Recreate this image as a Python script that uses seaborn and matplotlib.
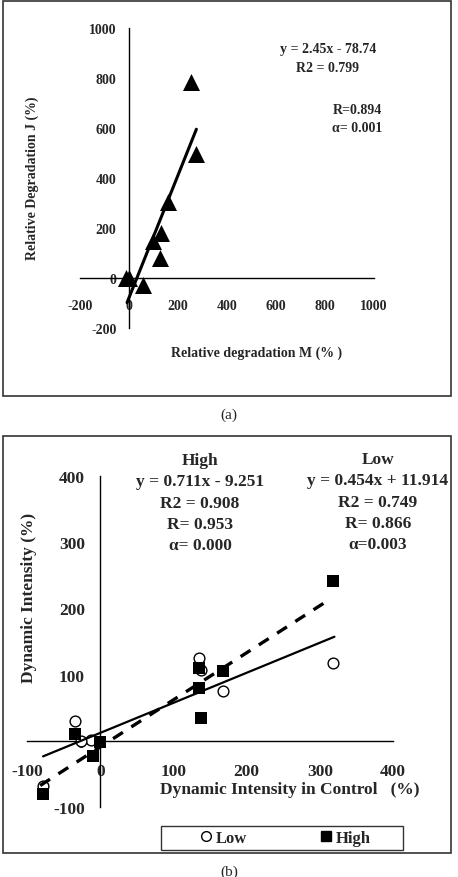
import matplotlib
matplotlib.use("Agg")
import matplotlib.pyplot as plt
import numpy as np
import pandas as pd
import seaborn as sns
from matplotlib.lines import Line2D
from matplotlib.patches import Rectangle

# ---- panel (a) data ----
deg_m = [-14, 0, 57, 98, 132, 128, 160, 252, 272]
deg_j = [0, 0, -27, 149, 180, 80, 303, 785, 495]
fit_a = (2.45, -78.74)
fit_a_x = [-8, 275]
ticks_a = [-200, 0, 200, 400, 600, 800, 1000]

# ---- panel (b) data ----
low_ctrl = [135, 138, 168, 318, -34, -12, -26, -78]
low_dyn = [125, 107, 75, 118, 30, 1, 0, -69]
high_ctrl = [318, 135, 135, 138, 168, -34, 0, -10, -78]
high_dyn = [241, 110, 80, 35, 105, 11, -2, -23, -80]
fit_low = (0.454, 11.914)
fit_high = (0.711, -9.251)
fit_low_x = [-78, 320]
fit_high_x = [-82, 310]
ticks_b = [-100, 0, 100, 200, 300, 400]

sns.set_style("white")
plt.rcParams["font.family"] = ["Liberation Serif", "DejaVu Serif"]
plt.rcParams["font.weight"] = "bold"
plt.rcParams["axes.unicode_minus"] = False

W, H = 458, 878
fig = plt.figure(figsize=(W / 100, H / 100), dpi=100)


def px_axes(x0, y0, x1, y1):
    # pixel box (top-left origin) -> figure axes
    return fig.add_axes([x0 / W, 1 - y1 / H, (x1 - x0) / W, (y1 - y0) / H])


def ftext(x, y, s, **kw):
    fig.text(x / W, 1 - y / H, s, **kw)


def style_axis(ax, ticks, fs, xpad, ypad):
    for s in ["top", "right"]:
        ax.spines[s].set_visible(False)
    for s in ["left", "bottom"]:
        ax.spines[s].set_position(("data", 0))
        ax.spines[s].set_color("black")
        ax.spines[s].set_linewidth(1.0)
    ax.set_xticks(ticks)
    ax.set_yticks(ticks)
    ax.set_xlim(ticks[0], ticks[-1])
    ax.set_ylim(ticks[0], ticks[-1])
    ax.tick_params(axis="x", direction="out", length=4, width=1, pad=xpad, labelsize=fs)
    ax.tick_params(axis="y", direction="out", length=4, width=1, pad=ypad, labelsize=fs)
    for lab in ax.get_xticklabels() + ax.get_yticklabels():
        lab.set_fontweight("bold")
    ax.set_xlabel("")
    ax.set_ylabel("")
    ax.patch.set_alpha(0)


# outer frames
for (x0, y0, x1, y1) in [(3, 2, 451, 397), (3, 437, 451, 854)]:
    fig.patches.append(Rectangle((x0 / W, 1 - y1 / H), (x1 - x0) / W, (y1 - y0) / H,
                                 transform=fig.transFigure, fill=False,
                                 edgecolor="#333333", linewidth=1.2))

# ---- panel (a) ----
ax1 = px_axes(80, 29, 374, 329)
df_a = pd.DataFrame({"m": deg_m, "j": deg_j})
sns.scatterplot(data=df_a, x="m", y="j", marker="^", s=150, color="black",
                edgecolor="black", linewidth=0, ax=ax1, zorder=3)
line_a = pd.DataFrame({"x": fit_a_x, "y": [fit_a[0] * v + fit_a[1] for v in fit_a_x]})
sns.lineplot(data=line_a, x="x", y="y", color="black", linewidth=2.2, ax=ax1, zorder=4)
style_axis(ax1, ticks_a, 10, 11, 5)

ftext(328, 49, "y = 2.45x - 78.74", ha="center", va="center", fontsize=10, fontweight="bold")
ftext(328, 68, "R2 = 0.799", ha="center", va="center", fontsize=10, fontweight="bold")
ftext(382, 110, "R=0.894", ha="right", va="center", fontsize=10, fontweight="bold")
ftext(382, 129, "α= 0.001", ha="right", va="center", fontsize=10, fontweight="bold")
ftext(257, 353, "Relative degradation M (% )", ha="center", va="center", fontsize=10, fontweight="bold")
ftext(32, 178, "Relative Degradation J (%)", ha="center", va="center", rotation=90,
      fontsize=10, fontweight="bold")
ftext(229, 415, "(a)", ha="center", va="center", fontsize=11, fontweight="normal")

# ---- panel (b) ----
ax2 = px_axes(27, 477, 393, 808)
df_low = pd.DataFrame({"c": low_ctrl, "d": low_dyn})
df_high = pd.DataFrame({"c": high_ctrl, "d": high_dyn})
sns.scatterplot(data=df_low, x="c", y="d", marker="o", s=60, facecolor="white",
                edgecolor="black", linewidth=1.0, ax=ax2, zorder=3)
sns.scatterplot(data=df_high, x="c", y="d", marker="s", s=85, color="black",
                edgecolor="black", linewidth=0, ax=ax2, zorder=3)
line_low = pd.DataFrame({"x": fit_low_x, "y": [fit_low[0] * v + fit_low[1] for v in fit_low_x]})
line_high = pd.DataFrame({"x": fit_high_x, "y": [fit_high[0] * v + fit_high[1] for v in fit_high_x]})
sns.lineplot(data=line_low, x="x", y="y", color="black", linewidth=1.6, ax=ax2, zorder=4)
sns.lineplot(data=line_high, x="x", y="y", color="black", linewidth=2.4, ax=ax2, zorder=4,
             dashes=False)
ax2.lines[-1].set_dashes([3.5, 3])
style_axis(ax2, ticks_b, 12.5, 12, 7)

for i, s in enumerate(["High", "y = 0.711x - 9.251", "R2 = 0.908", "R= 0.953", "α= 0.000"]):
    ftext(200, 461 + i * 21.3, s, ha="center", va="center", fontsize=12.5, fontweight="bold")
for i, s in enumerate(["Low", "y = 0.454x + 11.914", "R2 = 0.749", "R= 0.866", "α=0.003"]):
    ftext(378, 460 + i * 21.3, s, ha="center", va="center", fontsize=12.5, fontweight="bold")
ftext(290, 790, "Dynamic Intensity in Control   (%)", ha="center", va="center",
      fontsize=12.5, fontweight="bold")
ftext(29, 598, "Dynamic Intensity (%)", ha="center", va="center", rotation=90,
      fontsize=12.5, fontweight="bold")
ftext(229, 872, "(b)", ha="center", va="center", fontsize=11, fontweight="normal")

# legend box
fig.patches.append(Rectangle((161 / W, 1 - 851 / H), 242 / W, 24 / H, transform=fig.transFigure,
                             fill=False, edgecolor="#333333", linewidth=1.0))
handles = [
    Line2D([], [], marker="o", linestyle="", markerfacecolor="white", markeredgecolor="black",
           markersize=7, markeredgewidth=1.0, label="Low"),
    Line2D([], [], marker="s", linestyle="", color="black", markersize=7.5, label="High"),
]
fig.legend(handles=handles, loc="center", bbox_to_anchor=(286 / W, 1 - 839 / H), ncol=2,
           frameon=False, prop={"family": "Liberation Serif", "weight": "bold", "size": 12},
           handlelength=0.6, handletextpad=0.3, columnspacing=4.4)

fig.savefig("out.png", dpi=100)
